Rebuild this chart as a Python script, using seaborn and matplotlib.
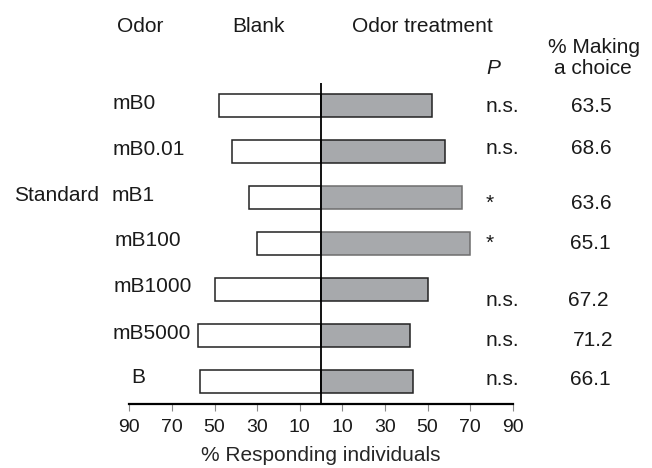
import matplotlib
matplotlib.use("Agg")
import matplotlib.pyplot as plt
import matplotlib.transforms as mtransforms
import seaborn as sns
import pandas as pd

# ---- data ----
odors = ["mB0", "mB0.01", "mB1", "mB100", "mB1000", "mB5000", "B"]
blank_pct = [48, 42, 34, 30, 50, 58, 57]
odor_pct = [52, 58, 66, 70, 50, 42, 43]
p_labels = ["n.s.", "n.s.", "*", "*", "n.s.", "n.s.", "n.s."]
making_choice = ["63.5", "68.6", "63.6", "65.1", "67.2", "71.2", "66.1"]
tick_values = [-90, -70, -50, -30, -10, 10, 30, 50, 70, 90]
tick_labels = ["90", "70", "50", "30", "10", "10", "30", "50", "70", "90"]

# ---- layout (pixel estimates, figure is 652x468) ----
W, H = 652, 468
label_dy = [3, 3, 3.5, 2.5, 2.7, 3.2, 1.3]          # baseline offset of row labels (px)
label_x = [113, 113, 112, 115, 114, 113, 131]        # left x of row labels (px)
right_dy = [5.7, 2.0, 11.1, 5.1, 16.7, 10.9, 3.7]    # baseline offset of P / value column (px)
value_x = [591, 591, 591, 590, 588, 593.5, 590]      # centre x of value column (px)
row_px = 46.0

sns.set_style("white")
plt.rcParams["font.family"] = ["Liberation Sans", "DejaVu Sans"]

fig = plt.figure(figsize=(W / 100, H / 100), dpi=100)
ax = fig.add_axes([129.4 / W, 1 - 404 / H, (512.7 - 129.4) / W, (404 - 83.3) / H])

df = pd.DataFrame({"odor": odors,
                   "blank": [-v for v in blank_pct],
                   "treat": odor_pct})

sns.barplot(data=df, x="blank", y="odor", orient="h", color="white",
            edgecolor="#222222", linewidth=1.1, width=0.5, saturation=1,
            errorbar=None, ax=ax)
sns.barplot(data=df, x="treat", y="odor", orient="h", color="#a7a9ac",
            edgecolor="#222222", linewidth=1.1, width=0.5, saturation=1,
            errorbar=None, ax=ax)

# lighter outline on significant treatment bars
for bar, p in zip(ax.containers[1], p_labels):
    if p == "*":
        bar.set_edgecolor("#6e6e6e")

ax.axvline(0, color="black", lw=1.3, zorder=5)

ax.set_xlim(-90, 90)
ax.set_ylim(6.49, -0.49)
ax.set_xticks(tick_values)
ax.set_xticklabels(tick_labels, fontsize=14)
ax.set_yticks([])
ax.set_ylabel("")
ax.set_xlabel("% Responding individuals", fontsize=15, labelpad=7.5)
ax.tick_params(axis="x", direction="out", length=5.2, width=0.8,
               color="#8a8a8a", pad=5.5, bottom=True, labelcolor="#1a1a1a")
for s in ["left", "top", "right"]:
    ax.spines[s].set_visible(False)
ax.spines["bottom"].set_linewidth(1.6)
ax.spines["bottom"].set_color("black")
ax.set_facecolor("none")

txt_kw = dict(fontsize=15, color="#1a1a1a", va="baseline")
trans = mtransforms.blended_transform_factory(fig.transFigure, ax.transData)

# row labels
for i, name in enumerate(odors):
    ax.text(label_x[i] / W, i + label_dy[i] / row_px, name, transform=trans,
            ha="left", **txt_kw)
ax.text(14 / W, 2 + label_dy[2] / row_px, "Standard", transform=trans,
        ha="left", **txt_kw)

# P column and % making a choice
for i in range(len(odors)):
    y = i + right_dy[i] / row_px
    ax.text(486 / W, y, p_labels[i], transform=trans, ha="left", **txt_kw)
    ax.text(value_x[i] / W, y, making_choice[i], transform=trans,
            ha="center", **txt_kw)

# headers
fig.text(140 / W, 1 - 31.7 / H, "Odor", ha="center", **txt_kw)
fig.text(258.7 / W, 1 - 31.7 / H, "Blank", ha="center", **txt_kw)
fig.text(422.3 / W, 1 - 31.7 / H, "Odor treatment", ha="center", **txt_kw)
fig.text(594.5 / W, 1 - 53.3 / H, "% Making", ha="center", **txt_kw)
fig.text(592.8 / W, 1 - 74 / H, "a choice", ha="center", **txt_kw)
fig.text(493 / W, 1 - 74 / H, "P", ha="center", style="italic", **txt_kw)

fig.savefig("out.png", dpi=100)
